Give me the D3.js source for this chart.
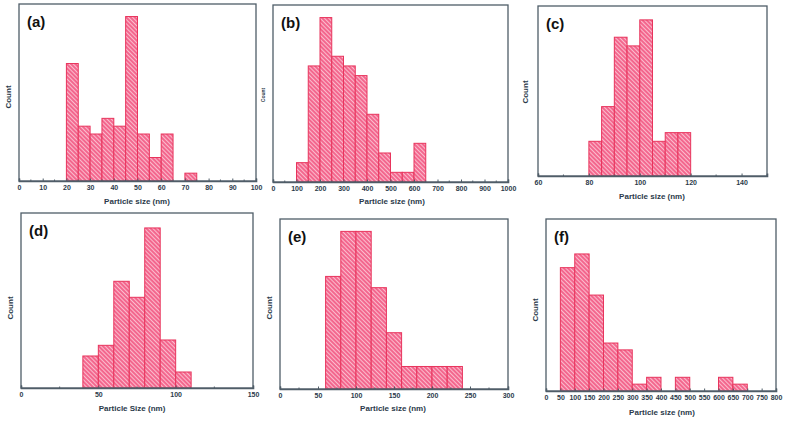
<!DOCTYPE html>
<html><head><meta charset="utf-8">
<script src="https://cdn.jsdelivr.net/npm/d3@7"></script>
<style>body{margin:0;background:#fff}svg{display:block}</style>
</head><body>
<svg id="c" width="785" height="422"></svg>
<script>
// ---- data ----
const binStartA = [20,25,30,35,40,45,50,55,60,65,70];
const countsA   = [15,7,6,8,7,21,6,3,6,0,1];
const ticksA    = [0,10,20,30,40,50,60,70,80,90,100];

const binStartB = [100,150,200,250,300,350,400,450,500,550,600];
const countsB   = [2,12,17,13,12,11,7,3,1,1,4];
const ticksB    = [0,100,200,300,400,500,600,700,800,900,1000];

const binStartC = [80,85,90,95,100,105,110,115];
const countsC   = [4,8,16,15,18,4,5,5];
const ticksC    = [60,80,100,120,140];

const binStartD = [40,50,60,70,80,90,100];
const countsD   = [6,8,20,17,30,9,3];
const ticksD    = [0,50,100,150];

const binStartE = [60,80,100,120,140,160,180,200,220];
const countsE   = [10,14,14,9,5,2,2,2,2];
const ticksE    = [0,50,100,150,200,250,300];

const binStartF = [50,100,150,200,250,300,350,400,450,500,550,600,650];
const countsF   = [18,20,14,7,6,1,2,0,2,0,0,2,1];
const ticksF    = [0,50,100,150,200,250,300,350,400,450,500,550,600,650,700,750,800];

const panels = [
  {lab:"(a)", bins:binStartA, w:5,   counts:countsA, ticks:ticksA, minor:5,  dom:[0,100],  ymax:22.6, box:[19,256,4,181],  title:"Particle size (nm)", tx:137, ty:204, cx:9,   cy:97,  countSize:8},
  {lab:"(b)", bins:binStartB, w:50,  counts:countsB, ticks:ticksB, minor:50, dom:[0,1000], ymax:18.3, box:[273,508,5,182], title:"Particle size (nm)", tx:392, ty:204, cx:264, cy:95,  countSize:5},
  {lab:"(c)", bins:binStartC, w:5,   counts:countsC, ticks:ticksC, minor:10, dom:[60,150], ymax:19.6, box:[538,767,6,176], title:"Particle size (nm)", tx:652, ty:199, cx:526, cy:92,  countSize:8},
  {lab:"(d)", bins:binStartD, w:10,  counts:countsD, ticks:ticksD, minor:25, dom:[0,150],  ymax:32.8, box:[21,253,213,388],title:"Particle Size (nm)", tx:132, ty:411, cx:11,  cy:308, countSize:8},
  {lab:"(e)", bins:binStartE, w:20,  counts:countsE, ticks:ticksE, minor:25, dom:[0,300],  ymax:15.1, box:[280,508,219,389],title:"Particle size (nm)", tx:393, ty:411, cx:270, cy:308, countSize:8},
  {lab:"(f)", bins:binStartF, w:50,  counts:countsF, ticks:ticksF, minor:50, dom:[0,800],  ymax:25.1, box:[546,776,219,391],title:"Particle size (nm)", tx:662, ty:415, cx:536, cy:310, countSize:8}
];

const svg = d3.select("#c");
const defs = svg.append("defs");
const pat = defs.append("pattern").attr("id","hatch").attr("patternUnits","userSpaceOnUse")
  .attr("width",3).attr("height",3).attr("patternTransform","rotate(-45)");
pat.append("rect").attr("width",3).attr("height",3).attr("fill","#f3678e");
pat.append("rect").attr("width",1).attr("height",3).attr("fill","#fbbccd");

const frameCol = "#4f5d68";
const textCol = "#2b3a4a";

panels.forEach(p => {
  const [x0,x1,y0,y1] = p.box;
  const x = d3.scaleLinear().domain(p.dom).range([x0,x1]);
  const y = d3.scaleLinear().domain([0,p.ymax]).range([y1,y0]);
  const g = svg.append("g");

  // bars
  g.selectAll("rect.bar").data(p.bins.map((b,i)=>({b, c:p.counts[i]})).filter(d=>d.c>0))
    .enter().append("rect").attr("class","bar")
    .attr("x", d=>x(d.b)).attr("width", d=>x(d.b+p.w)-x(d.b))
    .attr("y", d=>y(d.c)).attr("height", d=>y(0)-y(d.c))
    .attr("fill","url(#hatch)").attr("stroke","#e8345c").attr("stroke-width",1);

  // frame
  g.append("rect").attr("x",x0).attr("y",y0).attr("width",x1-x0).attr("height",y1-y0)
    .attr("fill","none").attr("stroke",frameCol).attr("stroke-width",1.3);

  // x axis
  const ax = d3.axisBottom(x).tickValues(p.ticks).tickSize(-2.5).tickPadding(4)
    .tickFormat(d3.format("d"));
  const axg = g.append("g").attr("transform",`translate(0,${y1})`).call(ax);
  axg.select(".domain").attr("stroke",frameCol).attr("stroke-width",1.6);
  axg.selectAll(".tick line").attr("stroke",frameCol);
  axg.selectAll("text").attr("fill",textCol).attr("font-family","Liberation Sans, Arial, sans-serif")
    .attr("font-size",7).attr("font-weight","bold");
  // minor ticks
  const minors = d3.range(p.dom[0], p.dom[1]+1e-9, p.minor).filter(v=>!p.ticks.includes(v));
  g.selectAll("line.minor").data(minors).enter().append("line")
    .attr("x1",d=>x(d)).attr("x2",d=>x(d)).attr("y1",y1).attr("y2",y1-1.5)
    .attr("stroke",frameCol);

  // titles
  g.append("text").attr("x",p.tx).attr("y",p.ty).attr("text-anchor","middle")
    .attr("font-family","Liberation Sans, Arial, sans-serif").attr("font-size",8).attr("font-weight","bold")
    .attr("fill",textCol).text(p.title);
  g.append("text").attr("transform",`translate(${p.cx},${p.cy}) rotate(-90)`).attr("text-anchor","middle")
    .attr("dominant-baseline","middle")
    .attr("font-family","Liberation Sans, Arial, sans-serif").attr("font-size",p.countSize).attr("font-weight","bold")
    .attr("fill",textCol).text("Count");
  g.append("text").attr("x",x0+8).attr("y",y0+23).attr("font-family","Liberation Sans, Arial, sans-serif")
    .attr("font-size",15).attr("font-weight","bold").attr("fill","#111").text(p.lab);
});
</script>
</body></html>
